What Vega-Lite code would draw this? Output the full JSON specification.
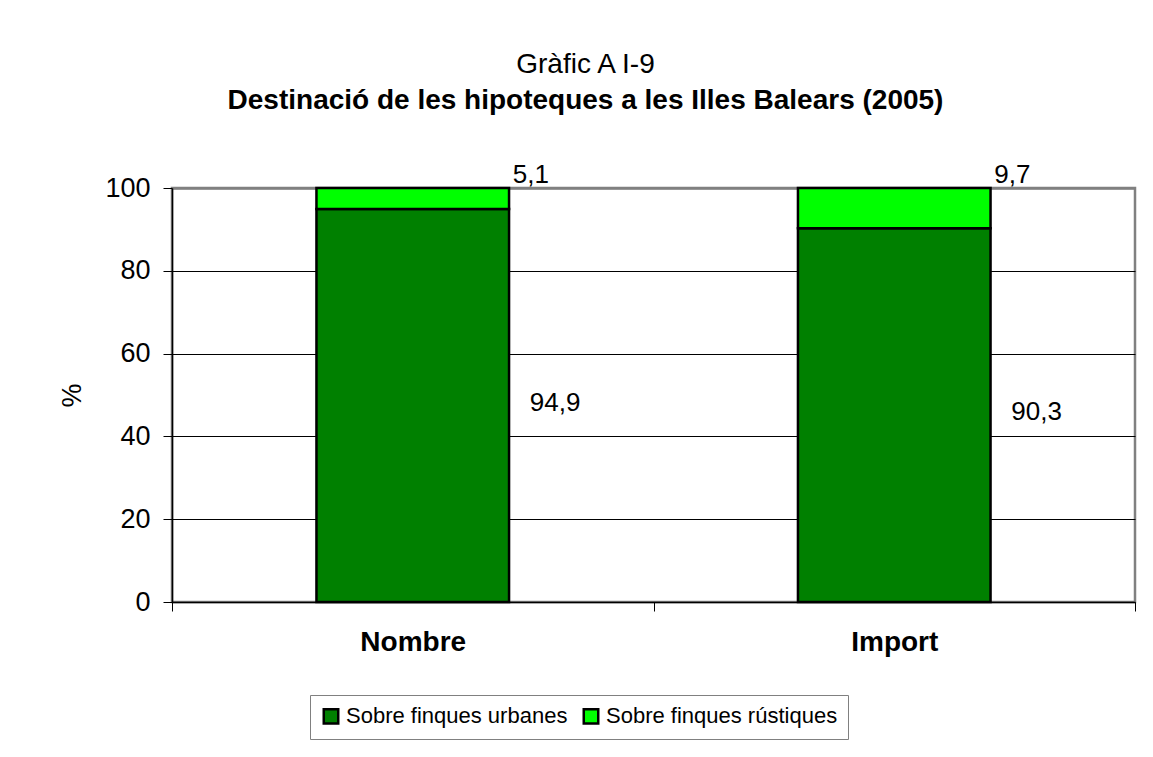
{
  "$schema": "https://vega.github.io/schema/vega-lite/v6.json",
  "width": 963,
  "height": 414,
  "autosize": {"type": "none"},
  "padding": {"left": 172, "top": 188, "right": 18, "bottom": 155},
  "background": "white",
  "title": {
    "text": "Gràfic A I-9",
    "subtitle": "Destinació de les hipoteques a les Illes Balears (2005)",
    "anchor": "middle",
    "frame": "group",
    "dx": -68,
    "offset": 47,
    "font": "Liberation Sans",
    "fontSize": 28,
    "fontWeight": "normal",
    "color": "black",
    "subtitleFont": "Liberation Sans",
    "subtitleFontSize": 28,
    "subtitleFontWeight": "bold",
    "subtitleColor": "black",
    "subtitlePadding": 8
  },
  "data": {
    "values": [
      {"cat": "Nombre", "serie": "Sobre finques urbanes", "pct": 94.9, "ord": 1},
      {"cat": "Nombre", "serie": "Sobre finques rústiques", "pct": 5.1, "ord": 2},
      {"cat": "Import", "serie": "Sobre finques urbanes", "pct": 90.3, "ord": 1},
      {"cat": "Import", "serie": "Sobre finques rústiques", "pct": 9.7, "ord": 2}
    ]
  },
  "encoding": {
    "x": {
      "field": "cat",
      "type": "nominal",
      "sort": ["Nombre", "Import"],
      "scale": {"paddingInner": 0, "paddingOuter": 0},
      "axis": {
        "title": null,
        "labelAngle": 0,
        "labelFont": "Liberation Sans",
        "labelFontSize": 28,
        "labelFontWeight": "bold",
        "labelColor": "black",
        "labelPadding": 17,
        "tickBand": "extent",
        "tickSize": 9,
        "tickColor": "black",
        "domainColor": "black",
        "domainWidth": 1.5,
        "grid": false
      }
    }
  },
  "layer": [
    {
      "mark": {"type": "bar", "width": {"band": 0.4}, "stroke": "black", "strokeWidth": 2.5},
      "encoding": {
        "y": {
          "field": "pct",
          "type": "quantitative",
          "stack": "zero",
          "scale": {"domain": [0, 100], "nice": false},
          "axis": {
            "values": [0, 20, 40, 60, 80, 100],
            "title": "%",
            "titleFont": "Liberation Sans",
            "titleFontSize": 27,
            "titleFontWeight": "normal",
            "titleColor": "black",
            "titleX": -100,
            "titleY": 207,
            "titleAlign": "center",
            "titleBaseline": "middle",
            "labelFont": "Liberation Sans",
            "labelFontSize": 27,
            "labelColor": "black",
            "labelPadding": 13,
            "tickSize": 9,
            "tickColor": "black",
            "domainColor": "black",
            "domainWidth": 1.5,
            "grid": true,
            "gridColor": {"condition": {"test": "datum.value === 100", "value": "#808080"}, "value": "black"},
            "gridWidth": {"condition": {"test": "datum.value === 100", "value": 2.5}, "value": 1}
          }
        },
        "color": {
          "field": "serie",
          "type": "nominal",
          "scale": {
            "domain": ["Sobre finques urbanes", "Sobre finques rústiques"],
            "range": ["#008000", "#00FF00"]
          },
          "legend": {
            "title": null,
            "orient": "none",
            "legendX": 138,
            "legendY": 507,
            "direction": "horizontal",
            "symbolType": "square",
            "symbolSize": 210,
            "symbolStrokeColor": "black",
            "symbolStrokeWidth": 2.5,
            "symbolOpacity": 1,
            "labelFont": "Liberation Sans",
            "labelFontSize": 22,
            "labelLimit": 1000,
            "labelColor": "black",
            "labelOffset": 4,
            "columnPadding": 10,
            "padding": 10,
            "strokeColor": "#808080",
            "fillColor": "white"
          }
        },
        "order": {"field": "ord"}
      }
    },
    {
      "mark": {"type": "text", "align": "left", "baseline": "middle", "dx": 117, "dy": -3, "fontSize": 26, "font": "Liberation Sans", "color": "black"},
      "encoding": {
        "y": {"field": "pct", "type": "quantitative", "stack": "zero", "bandPosition": 0.5},
        "detail": {"field": "serie"},
        "order": {"field": "ord"},
        "text": {"condition": {"test": "datum.ord === 1", "field": "pct", "type": "quantitative", "format": ".1f"}, "value": ""}
      }
    },
    {
      "mark": {"type": "text", "align": "left", "baseline": "alphabetic", "dx": 100, "dy": -5, "fontSize": 26, "font": "Liberation Sans", "color": "black"},
      "encoding": {
        "y": {"field": "pct", "type": "quantitative", "stack": "zero"},
        "detail": {"field": "serie"},
        "order": {"field": "ord"},
        "text": {"condition": {"test": "datum.ord === 2", "field": "pct", "type": "quantitative", "format": ".1f"}, "value": ""}
      }
    }
  ],
  "config": {
    "font": "Liberation Sans",
    "locale": {"number": {"decimal": ",", "thousands": ".", "grouping": [3], "currency": ["", " €"]}},
    "view": {"stroke": "#808080", "strokeWidth": 2.5}
  }
}
